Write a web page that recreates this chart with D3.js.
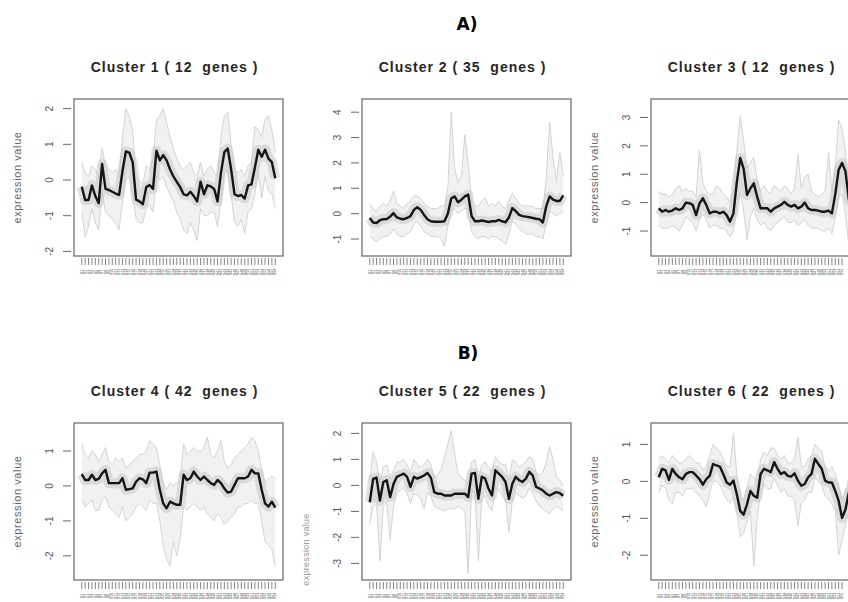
<!DOCTYPE html>
<html>
<head>
<meta charset="utf-8">
<script src="https://cdn.jsdelivr.net/npm/d3@7"></script>
<style>
  body { margin: 0; background: #fff; }
  svg { display: block; font-family: "Liberation Sans", Arial, sans-serif; }
</style>
</head>
<body>
<div id="chart"></div>
<script>
// cluster titles and sizes
const clusterNames = ["Cluster 1", "Cluster 2", "Cluster 3", "Cluster 4", "Cluster 5", "Cluster 6"];
const geneCounts = [12, 35, 12, 42, 22, 22];
const sampleLabels = d3.range(1, 59).map((i) => "S" + i);

// mean profile of each cluster (black line)
const mean1 = [-0.19, -0.56, -0.56, -0.15, -0.45, -0.65, 0.45, -0.25, -0.28, -0.33, -0.38, -0.42, 0.25, 0.8, 0.77, 0.5, -0.55, -0.6, -0.68, -0.2, -0.14, -0.25, 0.82, 0.55, 0.7, 0.55, 0.3, 0.1, -0.05, -0.2, -0.4, -0.43, -0.33, -0.45, -0.6, -0.05, -0.4, -0.15, -0.18, -0.25, -0.6, 0.2, 0.78, 0.88, 0.3, -0.4, -0.45, -0.42, -0.52, -0.15, -0.12, 0.35, 0.85, 0.65, 0.85, 0.6, 0.5, 0.05];
const mean2 = [-0.17, -0.35, -0.37, -0.26, -0.22, -0.21, -0.12, 0.02, -0.15, -0.2, -0.22, -0.17, -0.1, 0.15, 0.25, 0.15, -0.05, -0.22, -0.3, -0.32, -0.32, -0.32, -0.3, 0.0, 0.6, 0.68, 0.45, 0.55, 0.68, 0.75, -0.1, -0.3, -0.3, -0.27, -0.3, -0.33, -0.3, -0.3, -0.25, -0.3, -0.34, -0.15, 0.22, 0.1, -0.05, -0.1, -0.12, -0.14, -0.17, -0.2, -0.22, -0.35, 0.3, 0.68, 0.55, 0.5, 0.5, 0.72];
const mean3 = [-0.2, -0.32, -0.26, -0.32, -0.28, -0.2, -0.26, -0.2, 0.0, -0.02, -0.08, -0.44, -0.03, 0.15, -0.08, -0.38, -0.32, -0.32, -0.38, -0.32, -0.44, -0.67, -0.38, 0.72, 1.57, 1.2, 0.27, 0.5, 0.68, 0.2, -0.2, -0.2, -0.2, -0.32, -0.2, -0.14, -0.08, 0.03, -0.08, -0.14, -0.08, -0.2, -0.14, 0.0, -0.2, -0.26, -0.26, -0.28, -0.32, -0.32, -0.28, -0.38, 0.3, 1.16, 1.4, 1.1, 0.1, -0.05];
const mean4 = [0.34, 0.17, 0.17, 0.32, 0.17, 0.2, 0.36, 0.46, 0.08, 0.08, 0.08, 0.08, 0.22, -0.11, -0.09, -0.07, 0.12, 0.22, 0.19, 0.08, 0.38, 0.38, 0.41, -0.11, -0.5, -0.64, -0.45, -0.5, -0.54, -0.54, 0.32, 0.17, 0.22, 0.41, 0.27, 0.17, 0.27, 0.17, 0.08, 0.03, 0.17, 0.08, -0.07, -0.19, -0.16, 0.03, 0.22, 0.22, 0.22, 0.27, 0.46, 0.36, 0.36, -0.11, -0.5, -0.59, -0.45, -0.62];
const mean5 = [-0.65, 0.25, 0.3, -0.58, 0.13, 0.2, -0.45, 0.05, 0.33, 0.39, 0.45, 0.33, -0.06, 0.33, 0.26, 0.32, 0.38, 0.48, 0.3, -0.26, -0.32, -0.32, -0.39, -0.39, -0.39, -0.32, -0.32, -0.32, -0.32, -0.45, 0.45, 0.48, -0.52, 0.33, 0.26, -0.13, -0.39, 0.58, 0.45, 0.33, 0.13, -0.52, 0.06, 0.33, 0.2, 0.13, 0.26, 0.52, 0.38, -0.06, -0.12, -0.2, -0.32, -0.39, -0.32, -0.26, -0.3, -0.4];
const mean6 = [0.11, 0.34, 0.3, 0.04, 0.34, 0.2, 0.11, 0.06, 0.2, 0.25, 0.25, 0.16, 0.06, -0.09, 0.06, 0.15, 0.47, 0.43, 0.4, 0.2, -0.03, -0.09, 0.02, -0.35, -0.8, -0.9, -0.62, -0.26, -0.39, -0.44, 0.2, 0.34, 0.3, 0.25, 0.52, 0.34, 0.2, 0.25, 0.15, 0.13, 0.22, 0.02, -0.12, -0.07, 0.11, 0.2, 0.61, 0.47, 0.34, 0.02, -0.03, -0.03, -0.26, -0.53, -0.99, -0.76, -0.3, -0.35];

// upper and lower edge of the grey gene profiles
const hi1 = [0.5, 0.2, 0.1, 0.4, 0.3, 0.1, 0.9, 0.4, 0.3, 0.2, 0.3, 0.1, 1.2, 2.0, 1.8, 1.4, 0.1, 0.0, -0.1, 0.4, 0.3, 0.6, 1.7, 1.8, 2.0, 1.6, 1.2, 0.9, 0.6, 0.4, 0.3, 0.4, 0.5, 0.2, 0.1, 0.5, 0.1, 0.3, 0.4, 0.2, 0.1, 1.2, 1.8, 1.9, 1.0, 0.3, 0.2, 0.3, 0.1, 0.4, 0.5, 1.5, 1.4, 1.2, 1.7, 1.8, 1.4, 0.8];
const lo1 = [-0.9, -1.6, -1.3, -0.8, -1.2, -1.4, -0.3, -0.9, -1.0, -1.1, -1.2, -1.4, -0.6, 0.0, 0.1, -0.4, -1.1, -1.2, -1.2, -0.8, -0.7, -0.9, 0.1, 0.0, 0.1, -0.2, -0.4, -0.6, -0.9, -1.1, -1.4, -1.5, -1.2, -1.4, -1.7, -0.8, -1.0, -1.0, -0.9, -0.9, -1.3, -0.6, 0.2, 0.3, -0.4, -1.2, -1.3, -1.1, -1.5, -0.9, -0.8, -0.4, 0.2, -0.5, 0.1, -0.3, -0.4, -0.8];
const hi2 = [0.4, 0.2, 0.1, 0.3, 0.4, 0.3, 0.5, 0.9, 0.4, 0.3, 0.2, 0.4, 0.5, 0.7, 0.7, 0.6, 0.4, 0.3, 0.2, 0.2, 0.2, 0.3, 0.3, 1.0, 4.0, 1.8, 1.2, 1.5, 3.1, 2.0, 0.5, 0.3, 0.3, 0.5, 0.6, 0.3, 0.4, 0.3, 0.5, 0.3, 0.2, 0.5, 0.8, 0.6, 0.4, 0.3, 0.3, 0.3, 0.3, 0.2, 0.2, 0.2, 1.4, 3.6, 2.2, 1.3, 2.4, 1.5];
const lo2 = [-0.9, -1.0, -1.1, -1.0, -0.9, -0.9, -0.8, -0.6, -0.8, -0.9, -0.9, -0.8, -0.7, -0.4, -0.3, -0.5, -0.7, -0.8, -0.9, -0.9, -0.9, -1.0, -1.3, -0.5, 0.1, 0.2, 0.0, 0.1, 0.2, 0.2, -0.7, -0.9, -1.0, -0.9, -0.9, -1.0, -0.9, -0.9, -1.0, -1.1, -1.2, -0.8, -0.3, -0.4, -0.6, -0.7, -0.8, -0.8, -0.8, -0.9, -0.9, -1.0, -0.4, 0.1, 0.0, -0.1, 0.0, 0.1];
const hi3 = [0.4, 0.3, 0.3, 0.2, 0.3, 0.5, 0.6, 0.4, 0.5, 0.4, 0.4, 0.2, 1.85, 0.7, 0.4, 0.3, 0.3, 0.6, 0.5, 0.3, 0.2, 0.0, 0.4, 1.8, 3.05, 2.2, 1.2, 1.4, 1.6, 0.8, 0.4, 0.6, 0.4, 0.3, 0.6, 0.5, 0.4, 0.6, 0.5, 0.3, 0.5, 1.7, 0.5, 0.9, 1.0, 0.4, 0.3, 0.2, 0.3, 0.4, 1.75, 0.4, 1.2, 2.9, 2.6, 1.8, 0.6, 0.5];
const lo3 = [-0.8, -0.9, -0.9, -0.9, -0.8, -0.9, -1.0, -0.8, -0.5, -0.6, -0.7, -1.0, -0.6, -0.4, -0.6, -0.9, -0.8, -0.8, -0.9, -0.9, -1.0, -1.2, -1.0, -0.1, 0.4, -0.3, -1.3, -0.5, -0.2, -0.6, -0.8, -0.7, -0.9, -1.0, -0.8, -0.7, -0.6, -0.5, -0.7, -0.7, -0.6, -0.8, -0.7, -0.6, -0.8, -0.9, -0.9, -0.9, -1.0, -1.0, -0.9, -1.1, -0.5, 0.2, 0.3, -0.4, -1.55, -0.8];
const hi4 = [1.2, 0.9, 0.8, 1.0, 0.9, 0.7, 0.9, 1.1, 0.7, 0.6, 0.8, 0.7, 0.8, 0.5, 0.6, 0.7, 0.8, 0.9, 0.9, 1.0, 1.3, 1.2, 1.1, 0.6, 0.1, -0.1, 0.1, 0.0, 0.1, 0.2, 1.2, 0.9, 1.0, 1.1, 1.0, 1.0, 1.1, 1.4, 0.9, 0.8, 1.0, 1.3, 0.7, 0.5, 0.6, 0.8, 0.9, 1.0, 1.1, 1.2, 1.4, 1.3, 1.0, 0.5, 0.1, 0.2, 0.3, 0.2];
const lo4 = [-0.4, -0.6, -0.5, -0.4, -0.7, -0.7, -0.4, -0.3, -0.6, -0.7, -0.8, -0.9, -0.6, -1.0, -0.9, -0.8, -0.6, -0.5, -0.6, -0.7, -0.4, -0.5, -0.5, -1.0, -1.7, -2.1, -2.3, -1.6, -2.0, -1.5, -0.6, -0.7, -0.6, -0.5, -0.6, -0.7, -0.6, -0.8, -0.9, -1.0, -0.8, -0.9, -1.1, -1.0, -0.9, -0.8, -0.6, -0.6, -0.5, -0.5, -0.4, -0.5, -0.5, -1.0, -1.6, -1.7, -1.8, -2.3];
const hi5 = [0.2, 1.3, 0.9, 0.1, 0.7, 0.8, 0.3, 0.6, 0.9, 0.9, 1.0, 0.8, 0.5, 1.0, 0.8, 0.7, 0.8, 1.0, 0.8, 0.3, 0.4, 0.6, 1.1, 1.6, 2.1, 1.2, 0.5, 0.3, 0.2, 0.1, 0.9, 1.0, 0.2, 0.8, 0.9, 0.7, 0.5, 1.1, 0.9, 0.8, 0.8, 0.2, 1.0, 0.9, 0.7, 0.8, 0.9, 1.1, 1.0, 0.5, 0.4, 0.5, 0.9, 1.5, 1.0, 0.3, 0.2, 0.0];
const lo5 = [-1.5, -0.8, -0.7, -2.9, -0.8, -0.6, -2.1, -0.8, -0.3, -0.2, -0.1, -0.3, -0.7, -0.3, -0.4, -0.5, -0.9, -0.3, -0.4, -0.8, -0.9, -0.9, -1.0, -0.9, -0.9, -0.9, -0.8, -0.9, -1.0, -3.4, -0.2, -0.3, -2.9, -0.5, -0.4, -0.8, -1.0, -0.1, -0.2, -0.4, -0.6, -1.8, -0.6, -0.3, -0.4, -0.5, -0.4, -0.1, -0.3, -0.6, -0.8, -0.9, -1.0, -1.1, -0.9, -0.8, -0.9, -1.0];
const hi6 = [0.6, 0.7, 0.6, 0.5, 0.7, 0.6, 0.5, 0.5, 0.6, 0.7, 0.6, 0.5, 0.5, 0.3, 0.4, 0.7, 1.0, 0.9, 0.8, 0.6, 0.4, 0.4, 1.3, 0.2, -0.4, -0.5, -0.2, 0.2, 0.1, 0.0, 0.6, 0.8, 0.7, 0.9, 0.9, 0.7, 0.6, 0.7, 0.5, 0.5, 0.6, 1.2, 0.4, 0.4, 0.6, 0.7, 1.0, 0.9, 0.8, 0.4, 0.3, 0.4, 0.2, -0.1, -0.5, -0.3, 0.1, 0.0];
const lo6 = [-0.3, -0.1, -0.2, -0.5, -0.6, -0.3, -0.3, -0.4, -0.2, -0.2, -0.2, -0.3, -0.4, -0.5, -0.7, -0.3, 0.0, 0.0, -0.1, -0.3, -0.5, -0.6, -0.4, -0.8, -1.5, -1.4, -1.1, -0.8, -2.3, -1.0, -0.3, -0.1, -0.2, -0.2, 0.1, -0.1, -0.3, -0.2, -0.4, -0.4, -0.5, -1.2, -0.6, -0.5, -0.3, -0.3, 0.1, 0.0, -0.1, -0.4, -0.5, -0.6, -0.8, -2.0, -1.6, -1.2, -0.8, -0.8];

// y axis limits and ticks per panel
const yLimits = [[-2.13, 2.27], [-1.67, 4.52], [-1.88, 3.65], [-2.69, 1.8], [-3.64, 2.4], [-2.67, 1.58]];
const yTicks = [[-2, -1, 0, 1, 2], [-1, 0, 1, 2, 3, 4], [-1, 0, 1, 2, 3], [-2, -1, 0, 1], [-3, -2, -1, 0, 1, 2], [-2, -1, 0, 1]];

const means = [mean1, mean2, mean3, mean4, mean5, mean6];
const highs = [hi1, hi2, hi3, hi4, hi5, hi6];
const lows = [lo1, lo2, lo3, lo4, lo5, lo6];

const width = 848;
const height = 602;
const boxW = 209;
const boxH = 157;
const colX = [74, 362, 651];
const rowY = [99, 423];

const svg = d3
  .select("#chart")
  .append("svg")
  .attr("width", width)
  .attr("height", height);

svg.append("rect").attr("width", width).attr("height", height).attr("fill", "#fff");

// section letters
svg.append("text")
  .attr("x", 467).attr("y", 30)
  .attr("text-anchor", "middle")
  .attr("font-family", "DejaVu Sans")
  .attr("font-weight", "bold")
  .attr("font-size", 17)
  .text("A)");
svg.append("text")
  .attr("x", 468).attr("y", 359)
  .attr("text-anchor", "middle")
  .attr("font-family", "DejaVu Sans")
  .attr("font-weight", "bold")
  .attr("font-size", 17)
  .text("B)");

function drawCluster(k) {
  const x0 = colX[k % 3];
  const y0 = rowY[Math.floor(k / 3)];
  const n = means[k].length;

  // R style 4% padding on the x range
  const pad = (n - 1) * 0.04;
  const x = d3.scaleLinear().domain([1 - pad, n + pad]).range([x0, x0 + boxW]);
  const y = d3.scaleLinear().domain(yLimits[k]).range([y0 + boxH, y0]);

  const g = svg.append("g");
  const clipId = "clip" + k;
  g.append("clipPath").attr("id", clipId)
    .append("rect").attr("x", x0).attr("y", y0).attr("width", boxW).attr("height", boxH);

  const plot = g.append("g").attr("clip-path", `url(#${clipId})`);
  const idx = d3.range(n);

  const band = d3.area()
    .x((i) => x(i + 1))
    .y0((i) => y(lows[k][i]))
    .y1((i) => y(highs[k][i]));
  plot.append("path").datum(idx).attr("d", band).attr("fill", "#f1f1f1");

  const line = (arr) => d3.line().x((d, i) => x(i + 1)).y((d) => y(d))(arr);
  [highs[k], lows[k]].forEach((arr) => {
    plot.append("path").attr("d", line(arr))
      .attr("fill", "none").attr("stroke", "#cfcfcf").attr("stroke-width", 0.9);
  });

  // grey halo where most gene profiles sit
  plot.append("path").attr("d", line(means[k]))
    .attr("fill", "none").attr("stroke", "#c4c4c4").attr("stroke-width", 10)
    .attr("stroke-linejoin", "round").attr("opacity", 0.5);
  plot.append("path").attr("d", line(means[k]))
    .attr("fill", "none").attr("stroke", "#151515").attr("stroke-width", 2.4)
    .attr("stroke-linejoin", "round");

  // frame
  g.append("rect")
    .attr("x", x0).attr("y", y0).attr("width", boxW).attr("height", boxH)
    .attr("fill", "none").attr("stroke", "#666").attr("stroke-width", 1.2);

  // y axis
  const ya = g.append("g");
  yTicks[k].forEach((t) => {
    ya.append("line")
      .attr("x1", x0 - 11).attr("x2", x0 - 3)
      .attr("y1", y(t)).attr("y2", y(t))
      .attr("stroke", "#666").attr("stroke-width", 1);
    ya.append("text")
      .attr("transform", `translate(${x0 - 21},${y(t)}) rotate(-90)`)
      .attr("text-anchor", "middle")
      .attr("font-size", 10)
      .attr("fill", "#555")
      .text(t);
  });

  // x axis ticks and tiny sample names (cut at the page edge like the figure)
  const xa = g.append("g");
  sampleLabels.forEach((lab, i) => {
    const xi = x(i + 1);
    if (xi > width - 3) return;
    xa.append("line")
      .attr("x1", xi).attr("x2", xi)
      .attr("y1", y0 + boxH + 2).attr("y2", y0 + boxH + 9)
      .attr("stroke", "#777").attr("stroke-width", 0.9);
    xa.append("text")
      .attr("transform", `translate(${xi + 1.2},${y0 + boxH + 16}) rotate(-90)`)
      .attr("text-anchor", "middle")
      .attr("font-size", 3.6)
      .attr("fill", "#444")
      .text(lab);
  });

  // title (keep the double space before "genes")
  g.append("text")
    .attr("x", x0 + boxW / 2 - 4)
    .attr("y", y0 - 27)
    .attr("text-anchor", "middle")
    .attr("font-size", 14)
    .attr("font-weight", "bold")
    .attr("letter-spacing", 1.0)
    .attr("fill", "#262626")
    .style("white-space", "pre")
    .text(`${clusterNames[k]} ( ${geneCounts[k]}  genes )`);

  // y label, left out on cluster 2 and faint on cluster 5 as in the figure
  if (k !== 1) {
    const faint = k === 4;
    g.append("text")
      .attr("transform", `translate(${x0 - 53},${y0 + boxH / 2 + (faint ? 48 : 0)}) rotate(-90)`)
      .attr("text-anchor", "middle")
      .attr("font-size", faint ? 9 : 11)
      .attr("letter-spacing", faint ? 0.3 : 0.6)
      .attr("fill", faint ? "#999" : "#666")
      .text("expression value");
  }
}

d3.range(6).forEach(drawCluster);
</script>
</body>
</html>
